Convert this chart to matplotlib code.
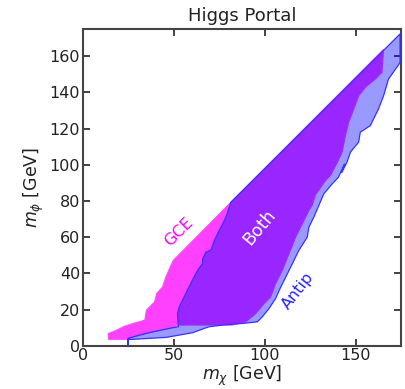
import matplotlib
matplotlib.use("Agg")
import matplotlib.pyplot as plt
from matplotlib.patches import Polygon

# GCE (magenta) region boundary: m_chi, m_phi
gce_x = [49.7, 81.4, 165.4, 164.5, 160.8, 155.4, 151.7, 149.0, 146.2, 144.4, 142.6,
         139.8, 136.2, 133.4, 131.6, 128.0, 126.1, 124.3, 120.7, 117.0, 113.4, 109.7,
         106.0, 103.3, 99.7, 95.1, 89.6, 82.0, 53.0, 47.6, 38.5, 31.2, 24.8, 24.8,
         14.0, 13.9, 16.6, 23.0, 27.6, 34.0, 34.9, 36.7, 39.4, 40.5, 43.8, 45.6, 47.8]
gce_y = [47.2, 79.3, 163.8, 151.0, 147.3, 142.8, 138.1, 130.8, 123.5, 116.1, 107.0,
         101.0, 94.1, 91.2, 88.6, 83.5, 77.6, 74.7, 67.4, 60.0, 50.9, 41.7,
         34.3, 27.0, 23.3, 17.8, 13.2, 11.4, 11.4, 9.6, 7.7, 5.9, 4.1, 3.5,
         3.5, 6.8, 7.7, 10.8, 12.3, 14.1, 19.6, 21.5, 24.2, 28.8, 32.5, 38.0, 43.1]

# Antiproton (blue) region boundary
ant_x = [81.4, 174.5, 174.5, 168.1, 165.4, 162.6, 158.1, 152.6, 151.7, 147.2, 145.3,
         142.3, 144.0, 140.5, 137.1, 132.5, 127.0, 124.3, 123.4, 118.8, 115.2, 111.6,
         108.0, 106.0, 102.4, 98.7, 96.0, 87.8, 76.8, 69.6, 66.8, 60.4, 53.1, 45.8,
         27.0, 24.8, 24.8, 24.8, 31.2, 38.5, 47.6, 52.5, 52.0, 53.0, 54.8, 57.5, 60.2,
         63.0, 65.7, 65.9, 67.7, 70.5, 72.3, 75.0, 78.7]
ant_y = [79.3, 172.3, 156.5, 147.3, 138.1, 130.8, 121.6, 118.0, 112.5, 107.0, 101.5,
         95.5, 100.5, 93.0, 89.4, 83.9, 71.0, 65.5, 60.0, 52.7, 45.3, 38.0,
         30.7, 26.1, 20.6, 16.0, 13.2, 12.3, 11.4, 10.5, 9.6, 7.2, 5.9, 4.6,
         3.5, 3.5, 0.0, 4.1, 5.9, 7.7, 9.6, 10.5, 17.8, 21.5, 25.2, 30.7, 36.2,
         41.5, 45.3, 48.1, 51.7, 53.0, 58.2, 63.7, 71.0]

xticks = [0, 50, 100, 150]
yticks = [0, 20, 40, 60, 80, 100, 120, 140, 160]

fig = plt.figure(figsize=(4.06, 3.89), dpi=100)
ax = fig.add_axes([0.2044, 0.1113, 0.7833, 0.8141])

g = list(zip(gce_x, gce_y))
a = list(zip(ant_x, ant_y))
ax.add_patch(Polygon(g, closed=True, facecolor=(1, 0, 1), alpha=0.75,
                     edgecolor='none', zorder=2))
ax.add_patch(Polygon(g, closed=True, facecolor='none', edgecolor=(1, 0.3, 1),
                     lw=0.8, zorder=3))
ax.add_patch(Polygon(a, closed=True, facecolor=(0, 0, 1), alpha=0.4,
                     edgecolor='none', zorder=4))
ax.add_patch(Polygon(a, closed=True, facecolor='none', edgecolor=(0.2, 0.2, 1),
                     lw=0.9, zorder=5))

ax.text(53, 62.7, 'GCE', color=(1, 0, 1), fontsize=11.5, rotation=45,
        ha='center', va='center', zorder=6)
ax.text(97, 65.5, 'Both', color='white', fontsize=12.5, rotation=50,
        ha='center', va='center', zorder=6)
ax.text(118.3, 30.1, 'Antip', color=(0.15, 0.15, 1), fontsize=11.5, rotation=52,
        ha='center', va='center', zorder=6)

ax.set_xlim(0, 175)
ax.set_ylim(0, 175)
ax.set_xticks(xticks)
ax.set_yticks(yticks)
ax.tick_params(direction='in', length=5, width=1.2, top=True, right=True,
               labelsize=11.5, colors='#222222', pad=2)
for s in ax.spines.values():
    s.set_linewidth(1.5)
    s.set_color('#444444')
ax.set_title('Higgs Portal', fontsize=13, color='#222222', pad=6)
ax.set_xlabel(r'$m_\chi$ [GeV]', fontsize=12.5, color='#222222', labelpad=0)
ax.set_ylabel(r'$m_\phi$ [GeV]', fontsize=12.5, color='#222222', labelpad=3)

fig.savefig('out.png', dpi=100)
